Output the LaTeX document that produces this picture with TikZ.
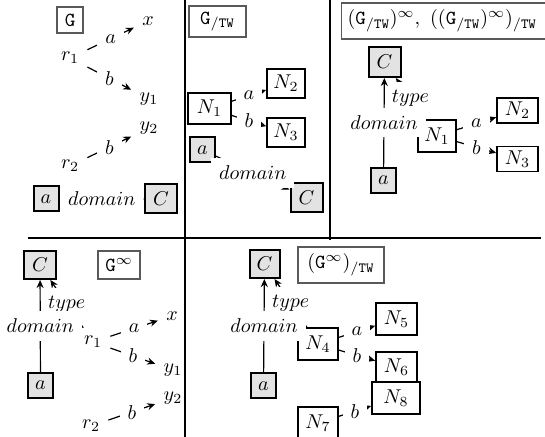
\documentclass[tikz,border=0pt]{standalone}
\usetikzlibrary{arrows.meta}
\begin{document}
\begin{tikzpicture}[x=0.5pt,y=-0.5pt,
  every node/.style={inner sep=4pt},
  lbl/.style={fill=white,inner sep=4pt},
  gbox/.style={draw,line width=1pt,fill=black!11,inner sep=0pt},
  nbox/.style={draw,line width=0.8pt,fill=white,inner sep=0pt},
  tbox/.style={draw=black!65,line width=0.6pt,fill=white,inner sep=0pt},
  edge/.style={line width=0.6pt,-{Stealth[length=4pt,width=3.5pt]}},
  sep/.style={line width=0.8pt}]
\useasboundingbox (0,0) rectangle (545,437);
% separators
\draw[sep] (185,0) -- (185,437);
\draw[sep] (330,0) -- (330,240);
\draw[sep] (28,238) -- (541,238);

% ---------- panel 1 : G ----------
\node[tbox,minimum width=13pt,minimum height=13pt] (g1) at (70,20) {\texttt{G}};
\node (p1r1) at (70,58) {$r_1$};
\node (p1x) at (148,21) {$x$};
\node (p1y1) at (149,99) {$y_1$};
\node (p1y2) at (149,128) {$y_2$};
\node (p1r2) at (70,166) {$r_2$};
\node[gbox,minimum size=12.5pt] (p1a) at (46,199) {$a$};
\node[gbox,minimum width=16pt,minimum height=14.5pt] (p1C) at (161,199) {$C$};
\draw[edge] (p1r1) -- node[lbl]{$a$} (p1x);
\draw[edge] (p1r1) -- node[lbl]{$b$} (p1y1);
\draw[edge] (p1r2) -- node[lbl]{$b$} (p1y2);
\draw[edge] (p1a) -- node[lbl]{$domain$} (p1C);

% ---------- panel 2 : G/TW ----------
\node[tbox,minimum width=28.5pt,minimum height=15.5pt] (g2) at (217.5,21.5) {$\mathtt{G}_{/\mathtt{TW}}$};
\node[nbox,minimum width=21.5pt,minimum height=15.5pt] (p2n1) at (209.5,108.5) {$N_1$};
\node[nbox,minimum width=19pt,minimum height=14.5pt] (p2n2) at (286,83.5) {$N_2$};
\node[nbox,minimum width=19pt,minimum height=14.5pt] (p2n3) at (286,132.5) {$N_3$};
\node[gbox,minimum size=12.5pt] (p2a) at (202.5,150) {$a$};
\node[gbox,minimum width=16pt,minimum height=14.5pt] (p2C) at (306.5,197.5) {$C$};
\draw[edge] (p2n1) -- node[lbl]{$a$} (p2n2);
\draw[edge] (p2n1) -- node[lbl]{$b$} (p2n3);
\draw[edge] (p2a) -- node[lbl]{$domain$} (p2C);

% ---------- panel 3 ----------
\node[tbox,anchor=west,minimum height=18pt,text width=115pt,inner xsep=3pt,align=left] (g3) at (341,21)
  {$(\mathtt{G}_{/\mathtt{TW}})^{\infty},\ ((\mathtt{G}_{/\mathtt{TW}})^{\infty})_{/\mathtt{TW}}$};
\node[gbox,minimum width=16pt,minimum height=15pt] (p3C) at (384.5,62) {$C$};
\node[gbox,minimum size=12.5pt] (p3a) at (383.5,180.5) {$a$};
\node[nbox,minimum width=19pt,minimum height=16pt] (p3n1) at (437,136) {$N_1$};
\node[nbox,minimum width=20.5pt,minimum height=12.5pt] (p3n2) at (517.5,110.5) {$N_2$};
\node[nbox,minimum width=20.5pt,minimum height=12.5pt] (p3n3) at (517.5,159) {$N_3$};
\draw[edge] (p3n1) -- node[lbl]{$a$} (p3n2);
\draw[edge] (p3n1) -- node[lbl]{$b$} (p3n3);
\draw[edge] (p3n1) -- node[lbl]{$type$} (p3C);
\draw[edge] (p3a) -- node[lbl]{$domain$} (p3C);

% ---------- panel 4 : G^inf ----------
\node[tbox,minimum width=21pt,minimum height=14pt] (g4) at (119,265) {$\mathtt{G}^{\infty}$};
\node[gbox,minimum width=16pt,minimum height=14pt] (p4C) at (40,265) {$C$};
\node[gbox,minimum size=12.5pt] (p4a) at (40.5,385.5) {$a$};
\node (p4r1) at (93,342) {$r_1$};
\node (p4x) at (172,316) {$x$};
\node (p4y1) at (173,370) {$y_1$};
\node (p4y2) at (173,398) {$y_2$};
\node (p4r2) at (91,426) {$r_2$};
\draw[edge] (p4r1) -- node[lbl]{$a$} (p4x);
\draw[edge] (p4r1) -- node[lbl]{$b$} (p4y1);
\draw[edge] (p4r2) -- node[lbl]{$b$} (p4y2);
\draw[edge] (p4r1) -- node[lbl]{$type$} (p4C);
\draw[edge] (p4a) -- node[lbl]{$domain$} (p4C);

% ---------- panel 5 : (G^inf)/TW ----------
\node[tbox,minimum width=43pt,minimum height=18pt] (g5) at (341,265) {$(\mathtt{G}^{\infty})_{/\mathtt{TW}}$};
\node[gbox,minimum width=15pt,minimum height=14pt] (p5C) at (264.5,264) {$C$};
\node[gbox,minimum size=12.5pt] (p5a) at (263.5,386) {$a$};
\node[nbox,minimum width=20pt,minimum height=16pt] (p5n4) at (318,344) {$N_4$};
\node[nbox,minimum width=20.5pt,minimum height=16pt] (p5n5) at (396.5,319) {$N_5$};
\node[nbox,minimum width=20.5pt,minimum height=15pt] (p5n6) at (396.5,367) {$N_6$};
\node[nbox,minimum width=24pt,minimum height=16pt] (p5n8) at (396,398) {$N_8$};
\node[nbox,minimum width=20pt,minimum height=16pt] (p5n7) at (318,423) {$N_7$};
\draw[edge] (p5n4) -- node[lbl]{$a$} (p5n5);
\draw[edge] (p5n4) -- node[lbl]{$b$} (p5n6);
\draw[edge] (p5n7) -- node[lbl]{$b$} (p5n8);
\draw[edge] (p5n4) -- node[lbl]{$type$} (p5C);
\draw[edge] (p5a) -- node[lbl]{$domain$} (p5C);
\end{tikzpicture}
\end{document}
